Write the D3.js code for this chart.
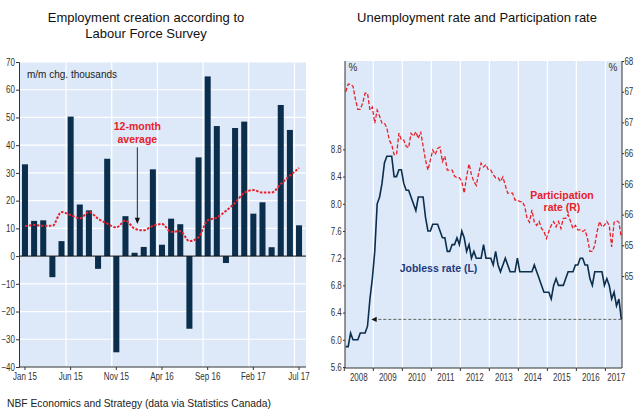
<!DOCTYPE html>
<html><head><meta charset="utf-8">
<script src="https://cdn.jsdelivr.net/npm/d3@7"></script>
<style>
body{margin:0;background:#fff;}
svg{display:block;font-family:"Liberation Sans",Arial,sans-serif;}
.tk{font-family:"Liberation Sans",Arial,sans-serif;}
</style></head>
<body>
<svg id="c" width="634" height="409"></svg>
<script>
// ---------- Left chart data ----------
const months = ["Jan 15","Feb 15","Mar 15","Apr 15","May 15","Jun 15","Jul 15","Aug 15","Sep 15","Oct 15","Nov 15","Dec 15",
"Jan 16","Feb 16","Mar 16","Apr 16","May 16","Jun 16","Jul 16","Aug 16","Sep 16","Oct 16","Nov 16","Dec 16",
"Jan 17","Feb 17","Mar 17","Apr 17","May 17","Jun 17","Jul 17"];
const jobChange = [33.1,12.7,12.9,-7.6,5.4,50.3,18.6,16.5,-4.6,35.1,-34.7,14.4,
1.2,3.3,31.3,4.1,13.5,11.5,-26.2,35.6,64.8,46.9,-2.5,46.2,
48.5,15.3,19.4,3.2,54.5,45.5,11.1];
const avg12 = [10.8,11.2,10.9,10.9,15.9,14.8,13.6,15.9,13.5,11.7,10.3,12.8,
9.9,9.3,10.9,11.6,8.7,9.0,5.4,6.8,12.9,13.9,16.3,19.2,
22.8,23.8,22.9,22.9,26.0,29.0,31.8];
const leftTickLabels = ["Jan 15","Jun 15","Nov 15","Apr 16","Sep 16","Feb 17","Jul 17"];
const leftYTicks = [-40,-30,-20,-10,0,10,20,30,40,50,60,70];

// ---------- Right chart data (monthly, Jan 2008 - Jul 2017) ----------
const years = [2008,2009,2010,2011,2012,2013,2014,2015,2016,2017];
const joblessRate = [
5.9,5.9,6.1,6.0,6.0,6.0,6.1,6.1,6.1,6.2,6.6,6.9,
7.3,8.0,8.1,8.3,8.6,8.7,8.7,8.7,8.4,8.4,8.5,8.5,
8.3,8.2,8.2,8.1,8.0,7.9,8.1,8.1,8.1,7.8,7.6,7.6,
7.7,7.7,7.7,7.6,7.5,7.5,7.3,7.3,7.4,7.4,7.5,7.4,
7.6,7.5,7.3,7.4,7.2,7.3,7.2,7.2,7.2,7.4,7.2,7.2,
7.2,7.1,7.3,7.1,7.0,7.1,7.2,7.1,7.0,7.0,7.0,7.2,
7.0,7.0,7.0,7.0,7.0,7.0,7.1,7.0,6.9,6.8,6.7,6.7,
6.7,6.6,6.8,6.9,6.8,6.8,6.8,6.9,7.0,7.0,7.0,7.1,
7.1,7.2,7.2,7.1,7.1,6.9,6.8,7.0,7.0,7.0,7.0,6.8,
6.9,6.8,6.6,6.7,6.5,6.6,6.3];
const participationRate = [
67.6,67.7,67.7,67.67,67.5,67.37,67.37,67.45,67.58,67.58,67.36,67.4,
67.19,67.36,67.28,67.19,67.19,67.13,66.97,66.91,66.78,66.78,67.06,66.97,
66.97,66.89,66.87,67.06,67.02,67.08,66.99,67.08,66.89,66.71,66.58,66.71,
66.84,66.78,66.86,66.88,66.69,66.76,66.58,66.58,66.58,66.5,66.48,66.48,
66.43,66.28,66.5,66.66,66.52,66.43,66.38,66.54,66.67,66.62,66.65,66.58,
66.58,66.52,66.48,66.48,66.43,66.49,66.38,66.28,66.28,66.28,66.19,66.19,
66.17,66.17,66.11,65.95,65.9,66.06,65.9,65.86,65.91,65.82,65.78,65.69,
65.78,65.86,65.91,65.84,65.91,65.82,65.95,65.95,66.0,65.91,65.82,65.86,
65.8,65.8,65.78,65.8,65.69,65.52,65.52,65.6,65.78,65.91,65.84,65.86,
65.91,65.86,65.58,65.9,65.92,65.9,65.7];
const rightLTicks = [5.6,6.0,6.4,6.8,7.2,7.6,8.0,8.4,8.8];
const rightRTicks = [65.2,65.6,66.0,66.4,66.8,67.2,67.6,68.0];

// ---------- styles ----------
const BG = "#dde9f9", NAVY = "#0b2e4d", RED = "#e8212a", AXIS = "#333";
const svg = d3.select("#c");
function styleTicks(ax){
  ax.selectAll("text").attr("class","tk").attr("font-size",10).attr("fill","#333")
    .attr("transform","scale(0.8,1)");
  ax.selectAll("line").attr("stroke",AXIS);
}

// ================= LEFT CHART =================
const L = {x0:19, x1:306, y0:62, y1:367};
const xb = d3.scaleBand().domain(months).range([20.4, 303.6]).paddingInner(0.34).paddingOuter(0.17);
const yl = d3.scaleLinear().domain([-40,70]).range([L.y1, L.y0]);
const gL = svg.append("g");
gL.append("rect").attr("x",L.x0).attr("y",L.y0).attr("width",L.x1-L.x0).attr("height",L.y1-L.y0).attr("fill",BG);
gL.selectAll(".hg").data(leftYTicks.filter(d=>d!==0&&d!==-40)).join("line")
  .attr("x1",L.x0).attr("x2",L.x1).attr("y1",d=>yl(d)).attr("y2",d=>yl(d))
  .attr("stroke","#fff").attr("stroke-width",1.2);
gL.selectAll(".vg").data(leftTickLabels.slice(1)).join("line")
  .attr("x1",d=>xb(d)-xb.step()*xb.paddingInner()/2).attr("x2",d=>xb(d)-xb.step()*xb.paddingInner()/2)
  .attr("y1",L.y0).attr("y2",L.y1).attr("stroke","#fff").attr("stroke-width",1.2);
gL.selectAll(".bar").data(jobChange).join("rect")
  .attr("x",(d,i)=>xb(months[i])).attr("width",xb.bandwidth())
  .attr("y",d=>yl(Math.max(0,d))).attr("height",d=>Math.abs(yl(d)-yl(0)))
  .attr("fill",NAVY);
gL.append("line").attr("x1",L.x0).attr("x2",L.x1).attr("y1",yl(0)).attr("y2",yl(0)).attr("stroke","#111").attr("stroke-width",1);
const lineL = d3.line().x((d,i)=>xb(months[i])+xb.bandwidth()/2).y(d=>yl(d)).curve(d3.curveMonotoneX);
gL.append("path").datum(avg12).attr("d",lineL).attr("fill","none").attr("stroke",RED)
  .attr("stroke-width",2).attr("stroke-dasharray","2.5,1.5");
const axL = gL.append("g").attr("transform",`translate(${L.x0},0)`).call(d3.axisLeft(yl).tickValues(leftYTicks).tickSize(3).tickPadding(2));
axL.select(".domain").attr("stroke",AXIS);
styleTicks(axL);
const axB = gL.append("g").attr("transform",`translate(0,${L.y1})`).call(d3.axisBottom(xb).tickValues(leftTickLabels).tickSize(3).tickPadding(3).tickSizeOuter(0));
axB.select(".domain").attr("d",`M${L.x0},0H${L.x1}`).attr("stroke",AXIS);
styleTicks(axB);
gL.append("text").attr("x",27).attr("y",77.5).attr("font-size",10).attr("fill","#222").text("m/m chg. thousands");
const arrowX = xb(months[12]) + xb.bandwidth()/2 + 0.3*xb.step();
gL.append("text").attr("x",arrowX).attr("y",130).attr("text-anchor","middle").attr("font-size",10.5).attr("font-weight","bold").attr("fill",RED).text("12-month");
gL.append("text").attr("x",arrowX).attr("y",143).attr("text-anchor","middle").attr("font-size",10.5).attr("font-weight","bold").attr("fill",RED).text("average");
gL.append("line").attr("x1",arrowX).attr("x2",arrowX).attr("y1",yl(39.2)).attr("y2",yl(13.5)).attr("stroke","#111").attr("stroke-width",0.9);
gL.append("path").attr("d",d3.line()([[arrowX-2.6,yl(13.8)],[arrowX+2.6,yl(13.8)],[arrowX,yl(11.6)]])+"Z").attr("fill","#111");

// ================= RIGHT CHART =================
const R = {x0:345, x1:622, y0:61, y1:368};
const xr = d3.scaleLinear().domain([0,115]).range([344.3,622.3]);
const yLr = d3.scaleLinear().domain([5.6,10.1]).range([367,61]);
const yRr = d3.scaleLinear().domain([64,68]).range([368.2,61]);
const gR = svg.append("g");
gR.append("rect").attr("x",R.x0).attr("y",R.y0).attr("width",R.x1-R.x0).attr("height",R.y1-R.y0).attr("fill",BG);
gR.selectAll(".vg").data(years.slice(1)).join("line")
  .attr("x1",(d,k)=>xr((k+1)*12)).attr("x2",(d,k)=>xr((k+1)*12)).attr("y1",R.y0).attr("y2",R.y1)
  .attr("stroke","#fff").attr("stroke-width",1.2);
const lineP = d3.line().x((d,i)=>xr(i+0.6)).y(d=>yRr(d));
gR.append("path").datum(participationRate).attr("d",lineP).attr("fill","none").attr("stroke",RED)
  .attr("stroke-width",1.3).attr("stroke-dasharray","4,2");
const lineJ = d3.line().x((d,i)=>xr(i+0.6)).y(d=>yLr(d));
gR.append("path").datum(joblessRate).attr("d",lineJ).attr("fill","none").attr("stroke",NAVY).attr("stroke-width",1.6);
const lastI = joblessRate.length-1, arrY = yLr(joblessRate[lastI]);
gR.append("line").attr("x1",xr(lastI+0.6)).attr("x2",xr(12.2)).attr("y1",arrY).attr("y2",arrY)
  .attr("stroke","#555").attr("stroke-width",0.9).attr("stroke-dasharray","3,2");
gR.append("path").attr("d",d3.line()([[xr(11.2),arrY],[xr(13.4),arrY-2.6],[xr(13.4),arrY+2.6]])+"Z").attr("fill","#111");
const axRL = gR.append("g").attr("transform",`translate(${R.x0},0)`).call(d3.axisLeft(yLr).tickValues(rightLTicks).tickFormat(d3.format(".1f")).tickSize(2).tickPadding(2).tickSizeOuter(0));
axRL.select(".domain").attr("d",`M0,${R.y0}V${R.y1}`).attr("stroke",AXIS);
styleTicks(axRL);
const axRR = gR.append("g").attr("transform",`translate(${R.x1},0)`).call(d3.axisRight(yRr).tickValues(rightRTicks).tickFormat(d3.format(".1f")).tickSize(2).tickPadding(1).tickSizeOuter(0));
axRR.select(".domain").attr("d",`M0,${R.y0}V${R.y1}`).attr("stroke",AXIS);
styleTicks(axRR);
const gRB = gR.append("g");
gRB.append("line").attr("x1",R.x0).attr("x2",R.x1).attr("y1",R.y1).attr("y2",R.y1).attr("stroke",AXIS);
gRB.selectAll(".t").data(years).join("line")
  .attr("x1",(d,k)=>xr(k*12)).attr("x2",(d,k)=>xr(k*12)).attr("y1",R.y1).attr("y2",R.y1+3).attr("stroke",AXIS);
gRB.selectAll(".yl").data(years).join("text").attr("class","tk")
  .attr("x",(d,k)=>xr(Math.min(k*12+6, (k*12+117)/2))/0.8).attr("y",R.y1+13).attr("text-anchor","middle")
  .attr("transform","scale(0.8,1)")
  .attr("font-size",10).attr("fill","#333").text(d=>d);
gR.append("text").attr("x",353).attr("y",71).attr("text-anchor","middle").attr("font-size",10).attr("fill","#333").text("%");
gR.append("text").attr("x",613).attr("y",71).attr("text-anchor","middle").attr("font-size",10).attr("fill","#333").text("%");
gR.append("text").attr("x",562).attr("y",198.5).attr("text-anchor","middle").attr("font-size",10.5).attr("font-weight","bold").attr("fill",RED).text("Participation");
gR.append("text").attr("x",562).attr("y",210.5).attr("text-anchor","middle").attr("font-size",10.5).attr("font-weight","bold").attr("fill",RED).text("rate (R)");
gR.append("text").attr("x",438.5).attr("y",272).attr("text-anchor","middle").attr("font-size",10.5).attr("font-weight","bold").attr("fill","#1f3a80").text("Jobless rate (L)");

// ================= TITLES / FOOTER =================
svg.append("text").attr("x",146).attr("y",21.7).attr("text-anchor","middle").attr("font-size",13).attr("fill","#111").text("Employment creation according to");
svg.append("text").attr("x",146).attr("y",38.3).attr("text-anchor","middle").attr("font-size",13).attr("fill","#111").text("Labour Force Survey");
svg.append("text").attr("x",477).attr("y",21.7).attr("text-anchor","middle").attr("font-size",13).attr("fill","#111").text("Unemployment rate and Participation rate");
svg.append("text").attr("x",7).attr("y",407).attr("font-size",10.3).attr("fill","#222").text("NBF Economics and Strategy (data via Statistics Canada)");
</script>
</body></html>
